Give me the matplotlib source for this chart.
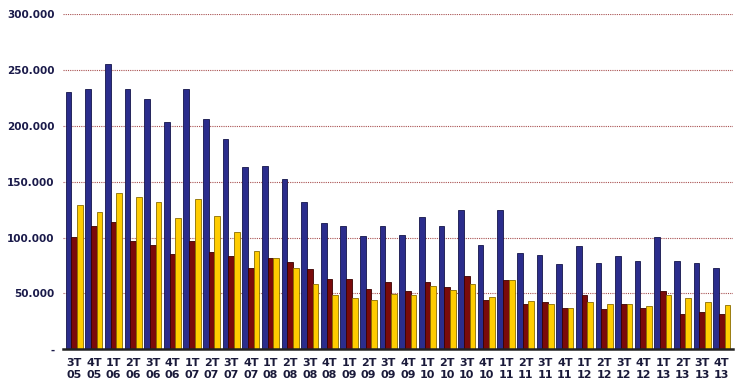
import matplotlib
matplotlib.use("Agg")
import matplotlib.pyplot as plt
import numpy as np
from matplotlib.ticker import FuncFormatter

quarters = ["3T", "4T"] + ["1T", "2T", "3T", "4T"] * 8
years = ["05", "05"] + [y for y in ["06", "07", "08", "09", "10", "11", "12", "13"] for _ in range(4)]
labels = [f"{q}\n{y}" for q, y in zip(quarters, years)]

blue = [230000, 233000, 255500, 233000, 224000, 203500, 233000, 206000, 188500, 163000,
        164300, 152700, 131500, 113000, 110700, 101000, 110700, 102000, 118000, 110700,
        124700, 93000, 124700, 86000, 84800, 76000, 92600, 77400, 83600, 78600,
        100900, 78900, 77400, 73000]
red = [100500, 110300, 114200, 96900, 93000, 85500, 96900, 87000, 83200, 73000,
       81700, 78000, 71800, 63200, 63200, 54200, 60500, 51900, 60500, 55500,
       65600, 44400, 62000, 40800, 42000, 37000, 48300, 35800, 40800, 37000,
       52200, 31900, 33100, 31900]
yellow = [129000, 122500, 140000, 136300, 131500, 117700, 134200, 119000, 105200, 88000,
          81700, 73000, 58000, 48300, 45600, 44400, 49500, 48300, 56900, 53000,
          58000, 46800, 62000, 43200, 40800, 37000, 42000, 40600, 40800, 39000,
          48300, 45600, 42000, 39300]

fig = plt.figure(figsize=(7.4, 3.89), dpi=100)
ax = fig.add_axes([0.085, 0.102, 0.905, 0.862])

x = np.arange(len(labels))
w = 0.29
ax.bar(x - w, blue, w, color="#2B2D8C", edgecolor="#14154A", linewidth=0.6, zorder=3)
ax.bar(x, red, w, color="#7A0A0A", edgecolor="#3A0000", linewidth=0.6, zorder=3)
ax.bar(x + w, yellow, w, color="#FFCC00", edgecolor="#8A6D00", linewidth=0.6, zorder=3)

ax.set_ylim(0, 300000)
ax.set_xlim(-0.58, len(labels) - 0.45)
ax.set_yticks(np.arange(0, 300001, 50000))

def fmt(v, pos):
    if v == 0:
        return "-"
    return f"{int(v):,}".replace(",", ".")

ax.yaxis.set_major_formatter(FuncFormatter(fmt))
ax.set_xticks(x)
ax.set_xticklabels(labels, fontsize=8, fontweight="bold", color="#1A1A3A", linespacing=1.3)
for t in ax.get_yticklabels():
    t.set_fontsize(7.5)
    t.set_fontweight("bold")
    t.set_color("#1A1A4A")

# dotted reddish gridlines, like the original
ax.yaxis.grid(True, color="#A85050", linestyle=(0, (1, 1)), linewidth=0.8, zorder=0)
ax.tick_params(axis="both", length=0, pad=6)
for s in ["left", "right", "top"]:
    ax.spines[s].set_visible(False)
ax.spines["bottom"].set_color("#222222")
ax.spines["bottom"].set_linewidth(1.8)
ax.spines["bottom"].set_zorder(4)

fig.savefig("out.png", dpi=100)
